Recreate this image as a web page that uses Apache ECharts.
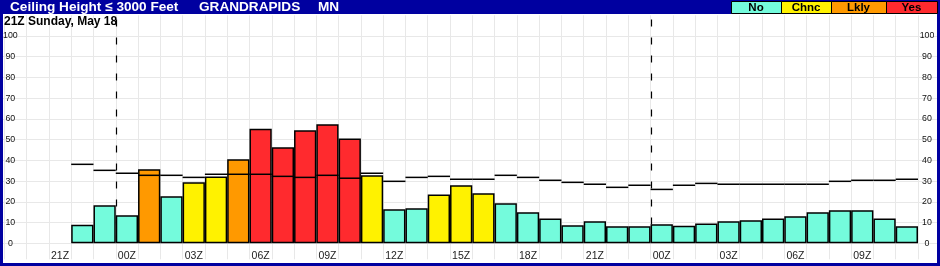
<!DOCTYPE html>
<html>
<head>
<meta charset="utf-8">
<script src="https://cdn.jsdelivr.net/npm/echarts@6/dist/echarts.min.js"></script>
<style>
html,body{margin:0;padding:0;background:#fff;}
#chart{width:940px;height:266px;}
</style>
</head>
<body>
<div id="chart"></div>
<script>
// ---- data ----
const hours = ['19Z','20Z','21Z','22Z','23Z',
  '00Z','01Z','02Z','03Z','04Z','05Z','06Z','07Z','08Z','09Z','10Z','11Z',
  '12Z','13Z','14Z','15Z','16Z','17Z','18Z','19Z','20Z','21Z','22Z','23Z',
  '00Z','01Z','02Z','03Z','04Z','05Z','06Z','07Z','08Z','09Z','10Z','11Z'];
const probValues = [null,null,null,9,18.3,
  13.5,35.7,22.7,29.4,32.2,40.5,55.3,46.3,54.5,57.4,50.6,32.8,
  16.4,16.9,23.6,28,24.1,19.3,15,12,8.7,10.6,8.2,8.2,
  9.2,8.5,9.6,10.6,11.1,12,13,15,15.9,16,12,8.2];
const probClass = [null,null,null,'No','No',
  'No','Lkly','No','Chnc','Chnc','Lkly','Yes','Yes','Yes','Yes','Yes','Chnc',
  'No','No','Chnc','Chnc','Chnc','No','No','No','No','No','No','No',
  'No','No','No','No','No','No','No','No','No','No','No','No'];
const climoValues = [null,null,null,38.1,35.2,
  33.8,32.8,32.8,31.8,33.3,33.3,33.3,32.3,31.8,32.8,31.4,33.8,
  29.9,31.8,32.3,30.9,30.9,32.8,31.8,30.4,29.4,28.5,27,28,
  26,28,28.9,28.5,28.5,28.5,28.5,28.5,29.9,30.4,30.4,30.9];
const dayBoundaryIdx = [5, 29];
const legendNames = ['No','Chnc','Lkly','Yes'];
const yTicks = [0,10,20,30,40,50,60,70,80,90,100];
const titleText = 'Ceiling Height \u2264 3000 Feet';
const stationText = 'GRANDRAPIDS';
const stateText = 'MN';
const subtitleText = '21Z Sunday, May 18';

// ---- styles ----
const colorMap = {No:'#74fbdc', Chnc:'#fff200', Lkly:'#ff9900', Yes:'#ff2a2e'};
const gridColor = '#e8e8e8';
const frameBlue = '#0000a0';
const FONT = '"Liberation Sans", Arial, sans-serif';

const barData = probValues.map((v,i)=> v==null ? '-' : {value:v, itemStyle:{color:colorMap[probClass[i]]}});
const climoData = [];
climoValues.forEach((v,i)=>{ if(v!=null) climoData.push([i,v]); });
const dashData = dayBoundaryIdx.map(i=>[i, 108]);

const legendX = [731, 781, 831, 886, 937];
const legendGraphics = [];
legendNames.forEach((n,i)=>{
  legendGraphics.push({type:'rect', shape:{x:legendX[i]+0.5, y:1.5, width:legendX[i+1]-legendX[i], height:12},
    style:{fill:colorMap[n], stroke:'#000', lineWidth:1}, z:101});
  legendGraphics.push({type:'text', x:(legendX[i]+legendX[i+1])/2, y:8,
    style:{text:n, fill:'#000', font:'bold 11.5px '+FONT, textAlign:'center', textVerticalAlign:'middle'}, z:102});
});

const chart = echarts.init(document.getElementById('chart'), null, {renderer:'canvas'});
chart.setOption({
  animation:false,
  backgroundColor:'#fff',
  grid:[
    {left:4, right:22, top:15.3, bottom:22.7, containLabel:false},
    {left:3, right:3, top:36, bottom:22.7, containLabel:false}
  ],
  xAxis:[
    {type:'category', gridIndex:0, data:hours, boundaryGap:true,
     axisLine:{show:false},
     axisTick:{show:true, interval:0, length:16, lineStyle:{color:gridColor, width:1}},
     splitLine:{show:true, interval:0, lineStyle:{color:gridColor, width:1}},
     axisLabel:{interval:(idx,val)=> parseInt(val,10)%3===0, fontSize:10.5, color:'#222', margin:7, fontFamily:FONT}},
    {type:'value', gridIndex:1, min:0, max:1, show:false}
  ],
  yAxis:[
    {type:'value', gridIndex:0, min:0, max:110, interval:10, position:'left',
     axisLine:{show:false}, axisTick:{show:false}, splitLine:{show:false},
     axisLabel:{inside:true, align:'center', margin:6, fontSize:8.8, color:'#111', fontFamily:FONT,
       formatter:v=> yTicks.indexOf(v)>=0 ? String(v) : ''}},
    {type:'value', gridIndex:0, min:0, max:110, interval:10, position:'right',
     axisLine:{show:false}, axisTick:{show:false}, splitLine:{show:false},
     axisLabel:{inside:false, align:'center', margin:9, fontSize:8.8, color:'#111', fontFamily:FONT,
       formatter:v=> yTicks.indexOf(v)>=0 ? String(v) : ''}},
    {type:'value', gridIndex:1, min:0, max:100, interval:10,
     axisLine:{show:false}, axisTick:{show:false}, axisLabel:{show:false},
     splitLine:{show:true, lineStyle:{color:gridColor, width:1}}}
  ],
  series:[
    {type:'custom', xAxisIndex:0, yAxisIndex:0, z:1, data:dashData, clip:false,
     encode:{x:0, y:1},
     renderItem:(params, api)=>{
       const w = api.size([1,0])[0];
       const p0 = api.coord([api.value(0), 0]);
       const p1 = api.coord([api.value(0), api.value(1)]);
       const x = Math.round(p0[0]-w/2)+0.5;
       return {type:'line', shape:{x1:x, y1:p1[1], x2:x, y2:p0[1]},
         style:{stroke:'#000', lineWidth:1.2, lineDash:[7,11]}};
     }},
    {type:'bar', xAxisIndex:0, yAxisIndex:0, z:2, data:barData, barCategoryGap:'0%',
     itemStyle:{borderColor:'#000', borderWidth:1.5}},
    {type:'custom', xAxisIndex:0, yAxisIndex:0, z:3, data:climoData,
     encode:{x:0, y:1},
     renderItem:(params, api)=>{
       const c = api.coord([api.value(0), api.value(1)]);
       const w = api.size([1,0])[0];
       return {type:'line', shape:{x1:c[0]-w/2, y1:c[1], x2:c[0]+w/2, y2:c[1]},
         style:{stroke:'#000', lineWidth:1.5}};
     }}
  ],
  graphic:[
    {type:'rect', shape:{x:0, y:0, width:940, height:14}, style:{fill:frameBlue}, z:100},
    {type:'rect', shape:{x:0, y:0, width:3, height:266}, style:{fill:frameBlue}, z:100},
    {type:'rect', shape:{x:937, y:0, width:3, height:266}, style:{fill:frameBlue}, z:100},
    {type:'rect', shape:{x:0, y:263, width:940, height:3}, style:{fill:frameBlue}, z:100},
    {type:'text', x:10, y:7.5, style:{text:titleText, fill:'#fff', font:'bold 13.6px '+FONT, textVerticalAlign:'middle'}, z:101},
    {type:'text', x:199, y:7.5, style:{text:stationText, fill:'#fff', font:'bold 13.6px '+FONT, textVerticalAlign:'middle'}, z:101},
    {type:'text', x:318, y:7.5, style:{text:stateText, fill:'#fff', font:'bold 13.6px '+FONT, textVerticalAlign:'middle'}, z:101},
    {type:'text', x:4, y:21.5, style:{text:subtitleText, fill:'#000', font:'bold 12px '+FONT, textVerticalAlign:'middle'}, z:101}
  ].concat(legendGraphics)
});
</script>
</body>
</html>
